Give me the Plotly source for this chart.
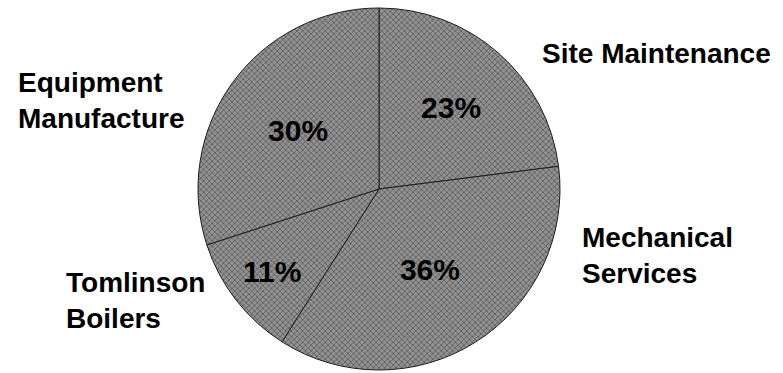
import plotly.graph_objects as go

categories = ["Site Maintenance", "Mechanical Services", "Tomlinson Boilers", "Equipment Manufacture"]
label_text = ["Site Maintenance", "Mechanical<br>Services", "Tomlinson<br>Boilers", "Equipment<br>Manufacture"]
values = [23, 36, 11, 30]

fig = go.Figure()
fig.add_trace(go.Pie(
    labels=categories,
    values=values,
    sort=False,
    direction="clockwise",
    rotation=0,
    textinfo="percent",
    texttemplate="%{percent:.0%}",
    textposition="inside",
    insidetextorientation="horizontal",
    textfont=dict(family="Liberation Sans", size=30, color="#000000", weight="bold"),
    marker=dict(
        colors=["#7c7c7c", "#858585", "#7e7e7e", "#7a7a7a"],
        line=dict(color="#1e1e1e", width=1),
        pattern=dict(shape="x", size=4, solidity=0.4, fgcolor="#2e2e2e", bgcolor="#929292", fillmode="overlay"),
    ),
    domain=dict(x=[198 / 783, 560 / 783], y=[1 - 370 / 373, 1 - 8 / 373]),
    showlegend=False,
    hoverinfo="label+percent",
))

# category name positions (paper coords)
label_pos = [(540, 54), (580, 255), (64, 300), (16, 101)]
for txt, (px, py) in zip(label_text, label_pos):
    fig.add_annotation(
        text=txt, xref="paper", yref="paper",
        x=px / 783, y=1 - py / 373, xanchor="left", yanchor="middle",
        align="left", showarrow=False,
        font=dict(family="Liberation Sans", size=28, color="#000000", weight="bold"),
    )

fig.update_layout(
    width=783, height=373,
    margin=dict(l=0, r=0, t=0, b=0),
    paper_bgcolor="#ffffff", plot_bgcolor="#ffffff",
)
fig.write_html("out.html")
